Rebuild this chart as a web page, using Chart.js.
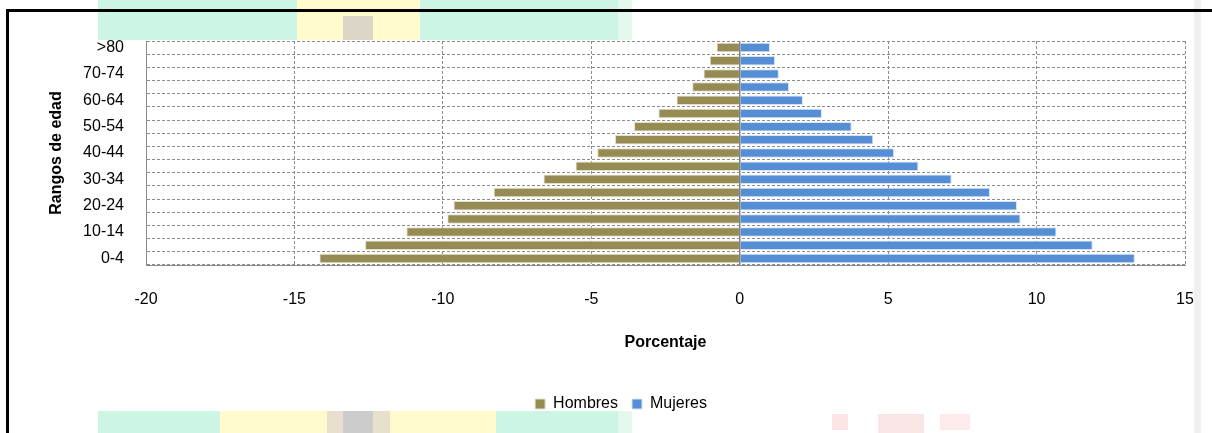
<!DOCTYPE html>
<html>
<head>
<meta charset="utf-8">
<title>Pirámide de población</title>
<script src="https://cdn.jsdelivr.net/npm/chart.js"></script>
<style>
  html, body { margin: 0; padding: 0; background: #fff; }
  #wrap { position: relative; width: 1212px; height: 433px; overflow: hidden; }
  #piramide { position: absolute; left: 0; top: 0; z-index: 2; }
  .blk { position: absolute; z-index: 1; }
</style>
</head>
<body>
<div id="wrap">
  <!-- bloques de color / marco de la captura original -->
  <div class="blk" style="left:98px;top:0;width:520px;height:40px;background:#cdf5e3"></div>
  <div class="blk" style="left:618px;top:0;width:14px;height:40px;background:#e3f9ee"></div>
  <div class="blk" style="left:297px;top:0;width:123px;height:40px;background:#fffbcc"></div>
  <div class="blk" style="left:343px;top:16px;width:30px;height:24px;background:#dcd6c8"></div>
  <div class="blk" style="left:98px;top:411px;width:520px;height:22px;background:#cdf5e3"></div>
  <div class="blk" style="left:618px;top:411px;width:14px;height:22px;background:#e3f9ee"></div>
  <div class="blk" style="left:220px;top:411px;width:276px;height:22px;background:#fffbcc"></div>
  <div class="blk" style="left:327px;top:411px;width:63px;height:22px;background:#e6e0cc"></div>
  <div class="blk" style="left:343px;top:411px;width:30px;height:22px;background:#cccccc"></div>
  <div class="blk" style="left:832px;top:414px;width:16px;height:16px;background:#fde3e3"></div>
  <div class="blk" style="left:878px;top:414px;width:46px;height:19px;background:#f8e6e6"></div>
  <div class="blk" style="left:940px;top:414px;width:30px;height:16px;background:#fdeaea"></div>
  <div class="blk" style="left:1194px;top:0;width:7px;height:433px;background:#f0f0f0"></div>
  <div class="blk" style="left:6px;top:9px;width:1206px;height:3px;background:#000"></div>
  <div class="blk" style="left:6px;top:9px;width:3px;height:424px;background:#000"></div>
  <canvas id="piramide" width="1212" height="433"></canvas>
</div>
<script>
var rangos = ["0-4", "5-9", "10-14", "15-19", "20-24", "25-29", "30-34", "35-39", "40-44",
              "45-49", "50-54", "55-59", "60-64", "65-69", "70-74", "75-79", ">80"];
var hombres = [-14.16, -12.62, -11.23, -9.85, -9.64, -8.29, -6.61, -5.53, -4.80,
               -4.20, -3.56, -2.74, -2.13, -1.60, -1.22, -1.01, -0.78];
var mujeres = [13.31, 11.89, 10.67, 9.46, 9.34, 8.43, 7.14, 6.02, 5.20,
               4.50, 3.77, 2.77, 2.13, 1.66, 1.32, 1.19, 1.02];
var ticksX = [-20, -15, -10, -5, 0, 5, 10, 15];

var sans = "'Liberation Sans', Arial, sans-serif";
var gris = "#8c8c8c";

var ctx = document.getElementById("piramide").getContext("2d");
var chart = new Chart(ctx, {
  type: "bar",
  data: {
    labels: rangos,
    datasets: [
      {
        label: "Hombres",
        data: hombres,
        backgroundColor: "#958b53",
        borderColor: "#e4e0cc",
        borderWidth: 1,
        barPercentage: 0.72,
        categoryPercentage: 1
      },
      {
        label: "Mujeres",
        data: mujeres,
        backgroundColor: "#558ed5",
        borderColor: "#d6e4f5",
        borderWidth: 1,
        barPercentage: 0.72,
        categoryPercentage: 1
      }
    ]
  },
  options: {
    indexAxis: "y",
    responsive: false,
    animation: false,
    layout: { padding: { left: 57, right: 27, top: 41, bottom: 11 } },
    plugins: {
      tooltip: { enabled: false },
      legend: {
        position: "bottom",
        labels: {
          boxWidth: 10,
          boxHeight: 10,
          padding: 14,
          color: "#000",
          font: { family: sans, size: 16 }
        }
      }
    },
    scales: {
      x: {
        stacked: true,
        min: ticksX[0],
        max: ticksX[ticksX.length - 1],
        afterBuildTicks: function(scale) {
          scale.ticks = ticksX.map(function(v) { return { value: v }; });
        },
        afterFit: function(scale) {
          scale.height = 117;
          // the tick padding is only meant to push the labels down
          scale.paddingLeft = 0;
          scale.paddingRight = 0;
        },
        grid: {
          drawTicks: false,
          color: function(c) { return c.tick && c.tick.value === 0 ? "#7f7f7f" : gris; },
          lineWidth: function(c) { return c.tick && c.tick.value === 0 ? 1.5 : 1; }
        },
        border: {
          color: gris,
          dash: function(c) { return c.tick && c.tick.value === 0 ? [] : [3, 2]; }
        },
        ticks: {
          padding: 25,
          color: "#000",
          font: { family: sans, size: 16 }
        },
        title: {
          display: true,
          text: "Porcentaje",
          color: "#000",
          padding: { top: 0, bottom: 30 },
          font: { family: sans, size: 16, weight: "bold" }
        }
      },
      y: {
        stacked: true,
        reverse: true,
        afterFit: function(scale) { scale.width = 89; },
        grid: {
          drawTicks: false,
          offset: true,
          color: gris
        },
        border: { color: gris, dash: [3, 2] },
        ticks: {
          autoSkip: false,
          padding: 22,
          color: "#000",
          font: { family: sans, size: 16 },
          callback: function(val, i) { return i % 2 === 0 ? rangos[i] : ""; }
        },
        title: {
          display: true,
          text: "Rangos de edad",
          color: "#000",
          padding: { top: -10, bottom: 0 },
          font: { family: sans, size: 16, weight: "bold" }
        }
      }
    }
  }
});
</script>
</body>
</html>
